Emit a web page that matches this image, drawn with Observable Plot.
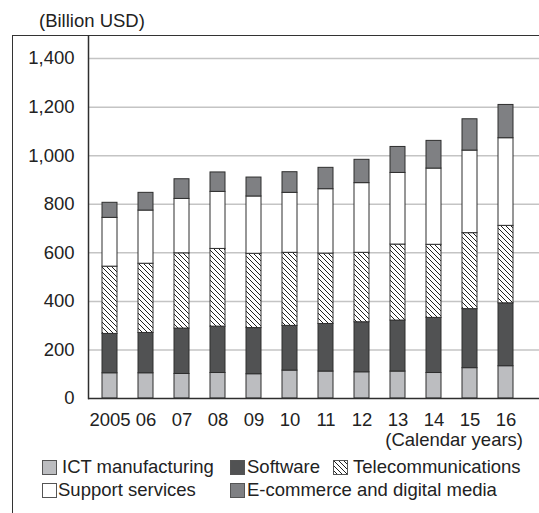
<!DOCTYPE html>
<html>
<head>
<meta charset="utf-8">
<script src="https://cdn.jsdelivr.net/npm/d3@7"></script>
<script src="https://cdn.jsdelivr.net/npm/@observablehq/plot@0.6"></script>
<style>
  body { margin: 0; background: #fff; }
  #wrap { position: relative; width: 539px; height: 513px; font-family: "Liberation Sans", Arial, Helvetica, sans-serif; color: #222; overflow: hidden; }
  #box { position: absolute; left: 12px; top: 35px; right: -2px; bottom: -2px; border-top: 1.5px solid #333; border-left: 1.5px solid #333; }
  .txt { position: absolute; font-size: 18.5px; line-height: 20px; white-space: nowrap; }
  #chart { position: absolute; left: 0; top: 35px; }
  .sw { position: absolute; }
</style>
</head>
<body>
<div id="wrap">
  <div id="box"></div>
  <div class="txt" style="left:39px;top:11px;">(Billion USD)</div>
  <div id="chart"></div>
  <div class="txt" style="right:16px;top:432px;line-height:16px;">(Calendar years)</div>
  <div id="legend"></div>
</div>
<script>
const years = ["2005","06","07","08","09","10","11","12","13","14","15","16"];
const seriesNames = ["ICT manufacturing","Software","Telecommunications","Support services","E-commerce and digital media"];
const ict       = [104,104,101,105,100,115,111,108,111,105,125,133];
const software  = [162,166,187,191,190,184,196,206,210,227,243,259];
const telecom   = [277,285,310,320,306,301,290,286,313,301,313,319];
const support   = [201,219,224,235,236,247,265,287,295,314,340,361];
const ecommerce = [ 62, 73, 81, 80, 78, 85, 88, 96,107,114,129,137];
const yTicks = [0,200,400,600,800,1000,1200,1400];
const fills = ["#bcbdc0","#515253","url(#hatch)","#ffffff","#7f8083"];

const seriesValues = [ict, software, telecom, support, ecommerce];
const rows = [];
years.forEach((yr, i) => {
  seriesNames.forEach((s, j) => rows.push({year: yr, series: s, value: seriesValues[j][i]}));
});

const svg = Plot.plot({
  width: 539,
  height: 395,
  marginLeft: 88,
  marginRight: 0,
  marginTop: 0,
  marginBottom: 32,
  style: {fontFamily: '"Liberation Sans", Arial, Helvetica, sans-serif', fontSize: "18.5px", color: "#222", background: "transparent"},
  x: {type: "band", domain: years, paddingInner: 0.58, paddingOuter: 0.44, align: 0.356, label: null},
  y: {domain: [0, 1495], label: null},
  color: {domain: seriesNames, range: fills},
  marks: [
    Plot.gridY(yTicks.filter(d => d > 0), {stroke: "#c4c4c4", strokeOpacity: 1, strokeWidth: 1.5}),
    Plot.barY(rows, {x: "year", y: "value", fill: "series", stroke: "#2e2e2e", strokeWidth: 1, order: seriesNames}),
    Plot.ruleY([0], {stroke: "#2e2e2e", strokeWidth: 1.5}),
    Plot.frame({anchor: "left", stroke: "#2e2e2e", strokeWidth: 1.5}),
    Plot.axisY(yTicks, {tickSize: 0, tickPadding: 14, tickFormat: d3.format(","), label: null, fontSize: 18.5}),
    Plot.axisX({tickSize: 0, tickPadding: 14, label: null, fontSize: 18.5})
  ]
});

const NS = "http://www.w3.org/2000/svg";
function addHatch(svgEl, id) {
  let defs = svgEl.querySelector("defs");
  if (!defs) { defs = document.createElementNS(NS, "defs"); svgEl.insertBefore(defs, svgEl.firstChild); }
  const p = document.createElementNS(NS, "pattern");
  p.setAttribute("id", id);
  p.setAttribute("patternUnits", "userSpaceOnUse");
  p.setAttribute("width", "5");
  p.setAttribute("height", "5");
  const r = document.createElementNS(NS, "rect");
  r.setAttribute("width", "5"); r.setAttribute("height", "5"); r.setAttribute("fill", "#fff");
  p.appendChild(r);
  const path = document.createElementNS(NS, "path");
  path.setAttribute("d", "M-1,-1L6,6M-1,4L1,6M4,-1L6,1");
  path.setAttribute("stroke", "#222");
  path.setAttribute("stroke-width", "1");
  p.appendChild(path);
  defs.appendChild(p);
}
addHatch(svg, "hatch");
document.getElementById("chart").appendChild(svg);

// legend
const legendItems = [
  {i: 0, sx: 42, tx: 62, cy: 467},
  {i: 1, sx: 230, tx: 247, cy: 467},
  {i: 2, sx: 333, tx: 353, cy: 467},
  {i: 3, sx: 42, tx: 58, cy: 490},
  {i: 4, sx: 230, tx: 247, cy: 490}
];
const leg = document.getElementById("legend");
legendItems.forEach((it, k) => {
  const s = document.createElementNS(NS, "svg");
  s.setAttribute("width", "15"); s.setAttribute("height", "15");
  s.setAttribute("class", "sw");
  s.style.left = it.sx + "px"; s.style.top = (it.cy - 7.5) + "px";
  s.style.position = "absolute";
  if (it.i === 2) addHatch(s, "hatchLeg" + k);
  const r = document.createElementNS(NS, "rect");
  r.setAttribute("x", "0.5"); r.setAttribute("y", "0.5");
  r.setAttribute("width", "14"); r.setAttribute("height", "14");
  r.setAttribute("fill", it.i === 2 ? "url(#hatchLeg" + k + ")" : fills[it.i]);
  r.setAttribute("stroke", "#555");
  r.setAttribute("stroke-width", "1");
  s.appendChild(r);
  leg.appendChild(s);
  const t = document.createElement("div");
  t.className = "txt";
  t.style.left = it.tx + "px";
  t.style.top = (it.cy - 10) + "px";
  t.textContent = seriesNames[it.i];
  leg.appendChild(t);
});
</script>
</body>
</html>
